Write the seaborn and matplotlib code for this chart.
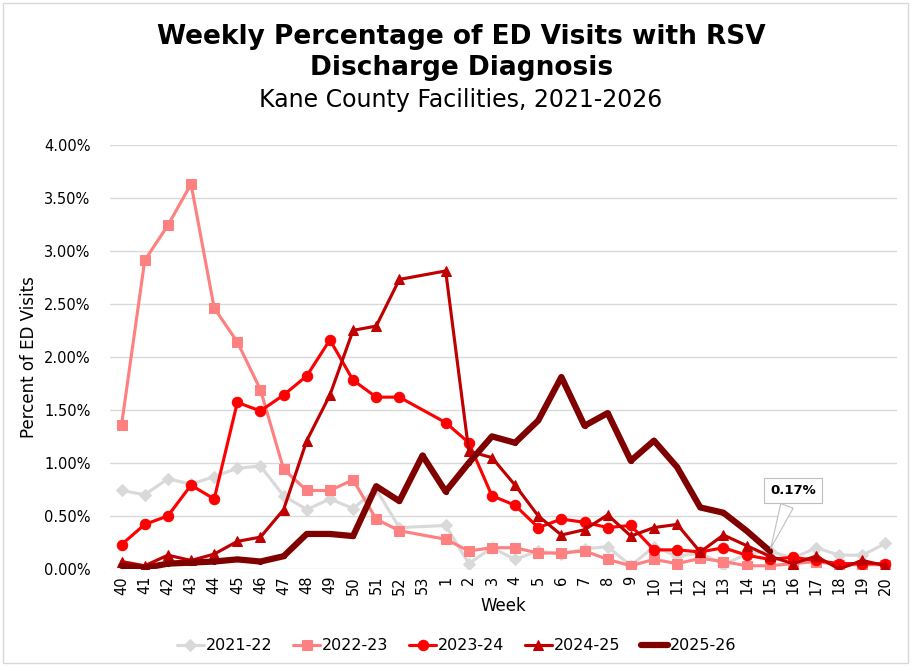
import numpy as np
import pandas as pd
import matplotlib
matplotlib.use("Agg")
import matplotlib.pyplot as plt
import matplotlib.ticker as mtick
from matplotlib.patches import Rectangle
import seaborn as sns

sns.set_style("white")
plt.rcParams["font.family"] = ["DejaVu Sans"]
plt.rcParams["text.color"] = "black"
plt.rcParams["axes.labelcolor"] = "black"
plt.rcParams["xtick.color"] = "black"
plt.rcParams["ytick.color"] = "black"

# inputs
weeks = [str(w) for w in range(40, 54)] + [str(w) for w in range(1, 21)]
seasons = ['2021-22', '2022-23', '2023-24', '2024-25', '2025-26']
nan = np.nan

s2122 = [0.74, 0.70, 0.85, 0.80, 0.87, 0.95, 0.97, 0.69, 0.56, 0.66, 0.57, 0.75, 0.39, nan,
         0.41, 0.05, 0.20, 0.09, 0.17, 0.14, 0.19, 0.21, 0.03, 0.21, 0.12, 0.15, 0.04, 0.14,
         0.17, 0.10, 0.20, 0.13, 0.13, 0.24]
s2223 = [1.36, 2.91, 3.24, 3.63, 2.46, 2.14, 1.69, 0.94, 0.74, 0.74, 0.84, 0.47, 0.36, nan,
         0.28, 0.17, 0.20, 0.20, 0.15, 0.15, 0.17, 0.09, 0.03, 0.09, 0.05, 0.10, 0.07, 0.03,
         0.03, 0.05, 0.07, 0.04, 0.04, 0.04]
s2324 = [0.23, 0.42, 0.50, 0.79, 0.66, 1.57, 1.49, 1.64, 1.82, 2.16, 1.78, 1.62, 1.62, nan,
         1.38, 1.19, 0.69, 0.60, 0.39, 0.47, 0.44, 0.39, 0.41, 0.18, 0.18, 0.16, 0.20, 0.13,
         0.09, 0.11, 0.08, 0.05, 0.05, 0.05]
s2425 = [0.07, 0.03, 0.13, 0.08, 0.14, 0.26, 0.30, 0.56, 1.21, 1.64, 2.25, 2.29, 2.73, nan,
         2.81, 1.11, 1.05, 0.79, 0.50, 0.32, 0.37, 0.51, 0.31, 0.39, 0.42, 0.16, 0.32, 0.22,
         0.12, 0.05, 0.12, 0.00, 0.08, 0.03]
s2526 = [0.03, 0.01, 0.05, 0.06, 0.07, 0.09, 0.07, 0.12, 0.33, 0.33, 0.31, 0.78, 0.64, 1.07,
         0.73, 1.00, 1.25, 1.19, 1.40, 1.81, 1.35, 1.47, 1.02, 1.21, 0.96, 0.58, 0.53, 0.36,
         0.17, nan, nan, nan, nan, nan]

# long dataframe, gaps dropped so each season is a connected line
df = pd.DataFrame({'pos': np.arange(len(weeks)), 'Week': weeks,
                   '2021-22': s2122, '2022-23': s2223, '2023-24': s2324,
                   '2024-25': s2425, '2025-26': s2526})
df_long = pd.melt(df, id_vars=['pos', 'Week'], value_vars=seasons,
                  var_name='Season', value_name='Pct').dropna()

styles = {'2021-22': dict(color='#D9D9D9', marker='D', lw=2.25, ms=6.5),
          '2022-23': dict(color='#FF8080', marker='s', lw=2.25, ms=6.5),
          '2023-24': dict(color='#FF0000', marker='o', lw=2.25, ms=7.5),
          '2024-25': dict(color='#C00000', marker='^', lw=2.25, ms=7.5),
          '2025-26': dict(color='#800000', marker='o', lw=4.5, ms=3)}

fig = plt.figure(figsize=(9.13, 6.67), dpi=100)
ax = fig.add_axes([0.1205, 0.147, 0.862, 0.636])

for s in seasons:
    st = styles[s]
    sns.lineplot(data=df_long[df_long.Season == s], x='pos', y='Pct', ax=ax,
                 color=st['color'], marker=st['marker'], lw=st['lw'],
                 markersize=st['ms'], markeredgecolor=st['color'], label=s,
                 solid_capstyle='round')

ax.set_xlim(-0.5, len(weeks) - 0.5)
ax.set_ylim(0, 4.0)
ax.set_xticks(np.arange(len(weeks)))
ax.set_xticklabels(weeks, rotation=90, fontsize=10.5)
ax.set_yticks(np.arange(0, 4.01, 0.5))
ax.yaxis.set_major_formatter(mtick.FuncFormatter(lambda v, p: '{:.2f}%'.format(v)))
ax.tick_params(axis='y', labelsize=10.5, length=0, pad=14)
ax.tick_params(axis='x', length=0, pad=5)
ax.set_xlabel('Week', fontsize=12, labelpad=2)
ax.set_ylabel('Percent of ED Visits', fontsize=12, labelpad=4)
ax.yaxis.grid(True, color='#D9D9D9', lw=1)
ax.xaxis.grid(False)
for side in ['top', 'right', 'left', 'bottom']:
    ax.spines[side].set_visible(False)
ax.set_axisbelow(True)

# callout for latest value
last_pos = df_long[df_long.Season == '2025-26'].pos.max()
last_val = df_long[(df_long.Season == '2025-26') & (df_long.pos == last_pos)].Pct.iloc[0]
ax.annotate('{:.2f}%'.format(last_val), xy=(last_pos, last_val),
            xytext=(last_pos + 1.0, last_val + 0.57), ha='center', va='center',
            fontsize=9.5, fontweight='bold',
            bbox=dict(boxstyle='square,pad=0.45', fc='white', ec='#BFBFBF', lw=0.8),
            arrowprops=dict(arrowstyle='wedge,tail_width=1.0,shrink_factor=0.5',
                            fc='white', ec='#BFBFBF', lw=0.8))

ax.legend(loc='center', bbox_to_anchor=(0.5, 0.032), bbox_transform=fig.transFigure,
          ncol=5, frameon=False, fontsize=11.5, handlelength=1.7, handletextpad=0.1,
          columnspacing=1.3)

fig.text(0.505, 0.945, 'Weekly Percentage of ED Visits with RSV', ha='center', va='center',
         fontsize=19, fontweight='bold')
fig.text(0.505, 0.898, 'Discharge Diagnosis', ha='center', va='center',
         fontsize=19, fontweight='bold')
fig.text(0.505, 0.850, 'Kane County Facilities, 2021-2026', ha='center', va='center',
         fontsize=17)

fig.patches.append(Rectangle((0.003, 0.006), 0.992, 0.99, transform=fig.transFigure,
                             fill=False, ec='#D9D9D9', lw=1))

fig.savefig('out.png', dpi=100)
